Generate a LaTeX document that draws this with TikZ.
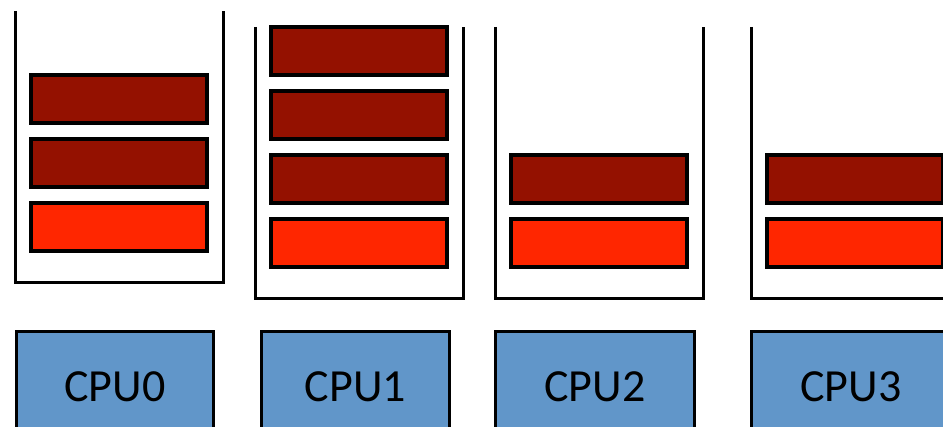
\documentclass[tikz,border=0pt]{standalone}
\usepackage{fontspec}
\setmainfont{Carlito}
\definecolor{TacheAttente}{RGB}{148,17,0}
\definecolor{TacheCourante}{RGB}{255,38,0}
\definecolor{FondProcesseur}{RGB}{97,150,201}
\begin{document}
\begin{tikzpicture}[x=1pt,y=-1pt]
		\tikzstyle{paroi}=[line width=3pt]
		\tikzstyle{tache}=[draw,line width=4pt,minimum width=176pt,minimum height=48pt,inner sep=0pt]
		\tikzstyle{attente}=[tache,fill=TacheAttente]
		\tikzstyle{courante}=[tache,fill=TacheCourante]
		\tikzstyle{processeur}=[draw,line width=3pt,fill=FondProcesseur,minimum height=110pt,inner sep=0pt,font=\fontsize{46}{50}\selectfont]
		\def\HautFile{27}
		\def\BasFile{299}
		\def\LigneA{(\BasFile-56)}
		\def\LigneB{(\BasFile-120)}
		\def\LigneC{(\BasFile-184)}
		\def\LigneD{(\BasFile-248)}
		\def\Decalage{16}
		\useasboundingbox (0,0) rectangle (943,427);
		\clip (0,0) rectangle (943,427);
		% files d'attente
		\coordinate (Fa1) at (15,{\HautFile-\Decalage});
		\coordinate (Fa2) at (15,{\BasFile-\Decalage});
		\coordinate (Fa3) at (223,{\BasFile-\Decalage});
		\coordinate (Fa4) at (223,{\HautFile-\Decalage});
		\coordinate (Fb1) at (255,\HautFile);
		\coordinate (Fb2) at (255,\BasFile);
		\coordinate (Fb3) at (463,\BasFile);
		\coordinate (Fb4) at (463,\HautFile);
		\coordinate (Fc1) at (495,\HautFile);
		\coordinate (Fc2) at (495,\BasFile);
		\coordinate (Fc3) at (703,\BasFile);
		\coordinate (Fc4) at (703,\HautFile);
		\coordinate (Fd1) at (751,\HautFile);
		\coordinate (Fd2) at (751,\BasFile);
		\coordinate (Fd3) at (960,\BasFile);
		\draw[paroi] (Fa1)--(Fa2)--(Fa3)--(Fa4);
		\draw[paroi] (Fb1)--(Fb2)--(Fb3)--(Fb4);
		\draw[paroi] (Fc1)--(Fc2)--(Fc3)--(Fc4);
		\draw[paroi] (Fd1)--(Fd2)--(Fd3);
		% taches
		\node[courante] (Ta) at (119,{\LigneA-\Decalage}) {};
		\node[attente] (Taa) at (119,{\LigneB-\Decalage}) {};
		\node[attente] (Tab) at (119,{\LigneC-\Decalage}) {};
		\node[courante] (Tb) at (359,{\LigneA}) {};
		\node[attente] (Tba) at (359,{\LigneB}) {};
		\node[attente] (Tbb) at (359,{\LigneC}) {};
		\node[attente] (Tbc) at (359,{\LigneD}) {};
		\node[courante] (Tc) at (599,{\LigneA}) {};
		\node[attente] (Tca) at (599,{\LigneB}) {};
		\node[courante] (Td) at (855,{\LigneA}) {};
		\node[attente] (Tda) at (855,{\LigneB}) {};
		% processeurs
		\node[processeur,minimum width=197pt] (Pa) at (115,386.5) {CPU0};
		\node[processeur,minimum width=188pt] (Pb) at (355.5,386.5) {CPU1};
		\node[processeur,minimum width=199pt] (Pc) at (595,386.5) {CPU2};
		\node[processeur,minimum width=199pt] (Pd) at (851,386.5) {CPU3};
	\end{tikzpicture}
\end{document}
